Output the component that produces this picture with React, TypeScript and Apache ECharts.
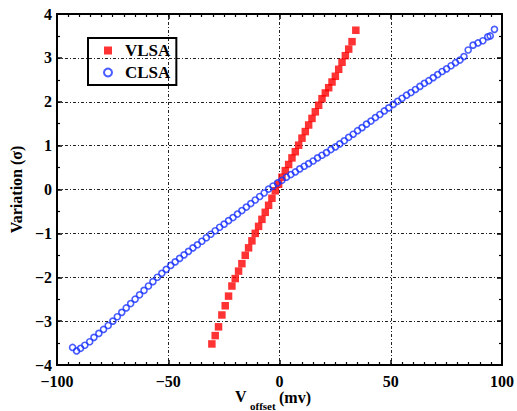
import React, { useEffect, useRef } from "react";
import * as echarts from "echarts";

const vlsaX = [-30.4, -28.9, -27.4, -25.9, -24.4, -22.9, -21.4, -19.9, -18.4, -16.9, -15.4, -13.9, -12.4, -10.9, -9.4, -7.9, -6.4, -4.9, -3.4, -1.9, -0.4, 1.1, 2.6, 4.1, 5.6, 7.1, 8.6, 10.1, 11.6, 13.1, 14.6, 16.1, 17.6, 19.1, 20.6, 22.1, 23.6, 25.1, 26.6, 28.1, 29.6, 31.1, 32.6, 34.3];
const vlsaY = [-3.52, -3.33, -3.13, -2.86, -2.65, -2.43, -2.2, -2.03, -1.86, -1.69, -1.5, -1.33, -1.17, -1.0, -0.84, -0.68, -0.52, -0.36, -0.2, -0.03, 0.12, 0.28, 0.43, 0.57, 0.72, 0.86, 1.01, 1.17, 1.32, 1.47, 1.62, 1.77, 1.92, 2.07, 2.2, 2.32, 2.45, 2.58, 2.74, 2.9, 3.05, 3.2, 3.37, 3.63];

const clsaX = [-93.0, -91.2, -89.4, -87.5, -85.3, -83.4, -81.2, -79.1, -77.0, -74.9, -72.9, -70.9, -68.9, -66.9, -64.9, -62.9, -60.9, -58.9, -56.9, -54.9, -52.9, -50.9, -48.9, -46.9, -44.9, -42.9, -40.9, -38.9, -36.9, -34.9, -32.9, -30.9, -28.9, -26.9, -24.9, -22.9, -20.9, -18.9, -16.9, -14.9, -12.9, -10.9, -8.9, -6.9, -4.9, -2.9, -0.9, 1.1, 3.1, 5.1, 7.1, 9.1, 11.1, 13.1, 15.1, 17.1, 19.1, 21.1, 23.1, 25.1, 27.1, 29.1, 31.1, 33.1, 35.1, 37.1, 39.1, 41.1, 43.1, 45.1, 47.1, 49.1, 51.1, 53.1, 55.1, 57.1, 59.1, 61.1, 63.1, 65.1, 67.1, 69.1, 71.1, 73.1, 75.1, 77.1, 79.1, 81.1, 82.9, 84.8, 87.0, 89.2, 91.4, 93.6, 94.7, 96.6];
const clsaY = [-3.6, -3.68, -3.62, -3.55, -3.47, -3.37, -3.28, -3.19, -3.1, -3.0, -2.9, -2.8, -2.7, -2.6, -2.5, -2.4, -2.3, -2.2, -2.1, -2.0, -1.91, -1.82, -1.73, -1.65, -1.57, -1.49, -1.41, -1.33, -1.26, -1.18, -1.1, -1.02, -0.94, -0.86, -0.79, -0.71, -0.64, -0.56, -0.48, -0.4, -0.32, -0.24, -0.16, -0.08, 0.01, 0.08, 0.15, 0.21, 0.28, 0.34, 0.4, 0.47, 0.53, 0.59, 0.65, 0.72, 0.78, 0.84, 0.91, 0.97, 1.04, 1.11, 1.19, 1.26, 1.34, 1.41, 1.49, 1.56, 1.64, 1.71, 1.79, 1.86, 1.94, 2.01, 2.08, 2.15, 2.21, 2.28, 2.35, 2.42, 2.48, 2.55, 2.62, 2.69, 2.75, 2.82, 2.89, 2.95, 3.03, 3.18, 3.29, 3.34, 3.39, 3.48, 3.5, 3.65];

const seriesNames = ["VLSA", "CLSA"];
const xRange = [-100, 100];
const yRange = [-4, 4];

const FONT = "Liberation Serif, Times New Roman, serif";

export default function App() {
  const ref = useRef<HTMLDivElement>(null);
  useEffect(() => {
    if (!ref.current) return;
    const chart = echarts.init(ref.current, null, { renderer: "svg" });
    const minus = (v: number) => String(v).replace("-", "\u2212");
    const gridDash = { color: "#222", width: 1, type: [3, 2, 1, 2] as any };
    const baseAxisLine = { onZero: false, lineStyle: { color: "#000", width: 2 } };
    const tick = { inside: true, length: 5, lineStyle: { color: "#000", width: 1.5 } };
    const mtick = { show: true, length: 3, lineStyle: { color: "#000", width: 1.2 } };
    const labelStyle = { color: "#000", fontFamily: FONT, fontWeight: "bold" as const, fontSize: 16 };
    chart.setOption({
      animation: false,
      backgroundColor: "#fff",
      grid: { left: 57, top: 14, right: 11, bottom: 46 },
      legend: {
        orient: "vertical",
        left: 88,
        top: 38,
        data: seriesNames,
        borderColor: "#000",
        borderWidth: 2,
        padding: [4, 6, 4, 15],
        itemWidth: 8,
        itemHeight: 8,
        itemGap: 5,
        textStyle: { ...labelStyle, fontSize: 17, padding: [0, 0, 0, 8] },
      },
      xAxis: [
        {
          type: "value",
          min: xRange[0],
          max: xRange[1],
          interval: 50,
          axisLine: baseAxisLine,
          axisTick: tick,
          minorTick: { ...mtick, splitNumber: 10 },
          splitLine: { show: true, lineStyle: gridDash },
          axisLabel: { ...labelStyle, margin: 8, formatter: minus },
        },
        {
          type: "value",
          position: "top",
          min: xRange[0],
          max: xRange[1],
          interval: 50,
          axisLine: baseAxisLine,
          axisTick: tick,
          minorTick: { ...mtick, splitNumber: 10 },
          splitLine: { show: false },
          axisLabel: { show: false },
        },
      ],
      yAxis: [
        {
          type: "value",
          min: yRange[0],
          max: yRange[1],
          interval: 1,
          axisLine: baseAxisLine,
          axisTick: tick,
          minorTick: { ...mtick, splitNumber: 2 },
          splitLine: { show: true, lineStyle: gridDash },
          axisLabel: { ...labelStyle, margin: 5, formatter: minus },
          name: "Variation (\u03c3)",
          nameLocation: "middle",
          nameGap: 29,
          nameTextStyle: { ...labelStyle, fontSize: 16 },
        },
        {
          type: "value",
          position: "right",
          min: yRange[0],
          max: yRange[1],
          interval: 1,
          axisLine: baseAxisLine,
          axisTick: tick,
          minorTick: { ...mtick, splitNumber: 2 },
          splitLine: { show: false },
          axisLabel: { show: false },
        },
      ],
      graphic: [
        { type: "text", left: 235, top: 388, style: { text: "V", font: `bold 16px ${FONT}`, fill: "#000" } },
        { type: "text", left: 250, top: 400, style: { text: "offset", font: `bold 11px ${FONT}`, fill: "#000" } },
        { type: "text", left: 279, top: 389, style: { text: "(mv)", font: `bold 16px ${FONT}`, fill: "#000" } },
      ],
      series: [
        {
          name: seriesNames[0],
          type: "scatter",
          symbol: "rect",
          symbolSize: 7.5,
          itemStyle: { color: "#ff0000" },
          data: vlsaX.map((x, i) => [x, vlsaY[i]]),
          z: 3,
        },
        {
          name: seriesNames[1],
          type: "scatter",
          symbol: "circle",
          symbolSize: 6,
          itemStyle: { color: "rgba(0,0,0,0)", borderColor: "#1a33ff", borderWidth: 1.6 },
          data: clsaX.map((x, i) => [x, clsaY[i]]),
          z: 4,
        },
      ],
    });
    return () => chart.dispose();
  }, []);
  return (
    <div
      ref={ref}
      style={{ position: "fixed", left: 0, top: 0, width: 517, height: 411, background: "#fff" }}
    />
  );
}
